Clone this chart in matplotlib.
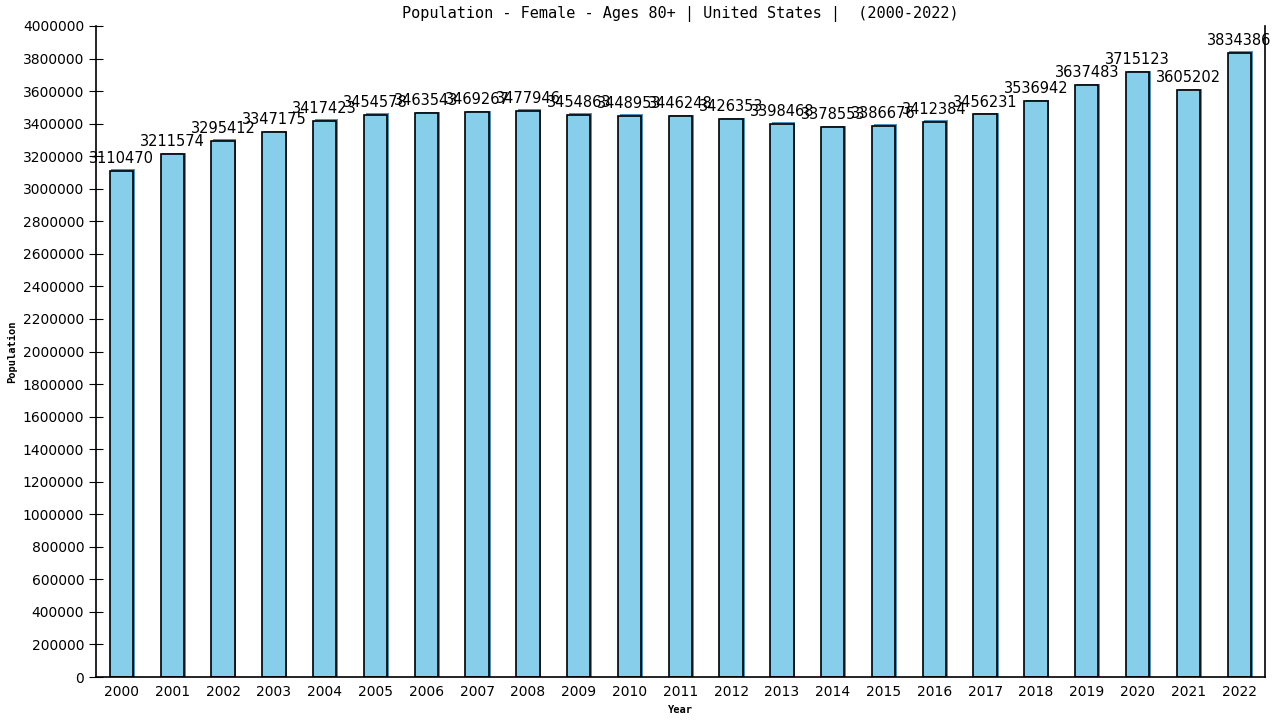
import numpy as np
import matplotlib.pyplot as plt

# data
years = [str(y) for y in range(2000, 2023)]
population = [3110470, 3211574, 3295412, 3347175, 3417423, 3454578, 3463543,
              3469267, 3477946, 3454863, 3448953, 3446248, 3426353, 3398468,
              3378553, 3386676, 3412384, 3456231, 3536942, 3637483, 3715123,
              3605202, 3834386]

fig = plt.figure(figsize=(12.8, 7.2), dpi=100)
ax = fig.add_axes([0.075, 0.0597, 0.913, 0.9042])

x = np.arange(len(years))
width = 0.46

# slight blue shadow behind the bars (right and top)
ax.bar(x + 0.035, [v + 9000 for v in population], width, color='#4f94c0',
       zorder=1, linewidth=0)
ax.bar(x, population, width, color='#87ceeb', edgecolor='black',
       linewidth=1.2, zorder=2)

for xi, v in zip(x, population):
    ax.text(xi, v + 30000, str(v), ha='center', va='bottom', fontsize=10.5,
            family='DejaVu Sans', zorder=3)

ax.set_xlim(-0.5, len(years) - 0.5)
ax.set_ylim(0, 4000000)
ax.set_yticks(np.arange(0, 4000001, 200000))
ax.set_yticklabels([str(v) for v in range(0, 4000001, 200000)])
ax.set_xticks(x)
ax.set_xticklabels(years)
ax.tick_params(axis='y', direction='inout', length=10, labelsize=10)
ax.tick_params(axis='x', length=0, labelsize=10, pad=6)

ax.spines['top'].set_visible(False)
for s in ['left', 'right', 'bottom']:
    ax.spines[s].set_linewidth(1.2)

ax.set_title('Population - Female - Ages 80+ | United States |  (2000-2022)',
             fontsize=11, family='DejaVu Sans Mono', pad=6)
ax.set_xlabel('Year', fontsize=7.5, fontweight='bold', family='DejaVu Sans Mono')
ax.set_ylabel('Population', fontsize=7.5, fontweight='bold',
              family='DejaVu Sans Mono')

fig.savefig('out.png', dpi=100)
